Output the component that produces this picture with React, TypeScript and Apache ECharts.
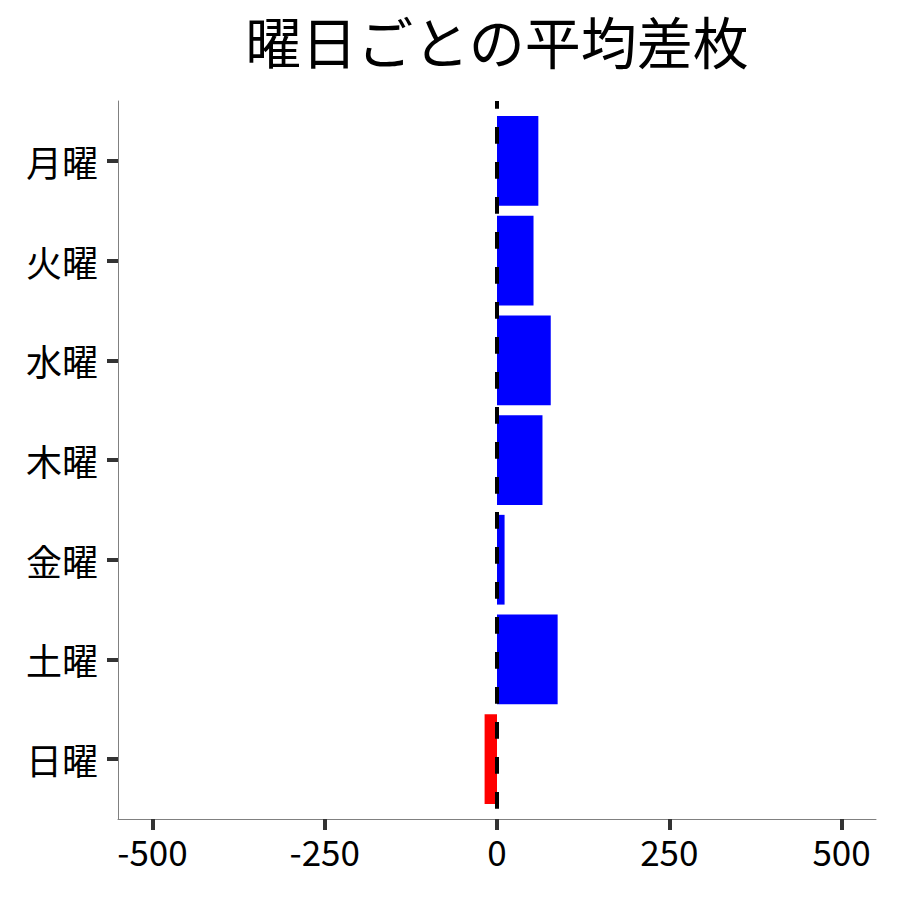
import React, { useEffect, useRef } from "react";
import * as echarts from "echarts";

const TITLE = "曜日ごとの平均差枚";
const days = ["月曜", "火曜", "水曜", "木曜", "金曜", "土曜", "日曜"];
const values = [60, 53, 78, 66, 11, 88, -18];
const xTicks = [-500, -250, 0, 250, 500];
const xRange = [-550, 550];
const yRange = [0.4, 7.6];

const FONT = "Noto Sans CJK JP";

export default function App() {
  const ref = useRef<HTMLDivElement>(null);
  useEffect(() => {
    if (!ref.current) return;
    const chart = echarts.init(ref.current, null, { renderer: "svg" });
    const barData = values.map((v, i) => [v, i + 1]);
    const dayPositions = days.map((_, i) => i + 1);
    chart.setOption({
      animation: false,
      backgroundColor: "#ffffff",
      textStyle: { fontFamily: FONT },
      title: {
        text: TITLE,
        left: 492,
        top: 6,
        textAlign: "center",
        textStyle: { fontFamily: FONT, fontSize: 56, fontWeight: "normal", color: "#000" },
      },
      grid: { left: 118, right: 24, top: 101, bottom: 81, containLabel: false },
      xAxis: {
        type: "value",
        min: xRange[0],
        max: xRange[1],
        splitLine: { show: false },
        axisLine: { show: true, onZero: false, lineStyle: { color: "#808080", width: 1 } },
        axisTick: { show: true, length: 11, customValues: xTicks, lineStyle: { color: "#333", width: 4 } },
        axisLabel: {
          customValues: xTicks,
          margin: 14,
          fontSize: 35,
          color: "#000",
          fontFamily: FONT,
        },
      },
      yAxis: {
        type: "value",
        inverse: true,
        min: yRange[0],
        max: yRange[1],
        splitLine: { show: false },
        axisLine: { show: true, onZero: false, lineStyle: { color: "#808080", width: 1 } },
        axisTick: { show: true, length: 11, customValues: dayPositions, lineStyle: { color: "#333", width: 4 } },
        axisLabel: {
          customValues: dayPositions,
          margin: 20,
          fontSize: 36,
          color: "#000",
          fontFamily: FONT,
          padding: [0, 0, 4, 0],
          formatter: (v: number) => days[Math.round(v) - 1] ?? "",
        },
      },
      series: [
        {
          type: "custom",
          z: 2,
          encode: { x: 0, y: 1 },
          data: barData,
          renderItem: (params: any, api: any) => {
            const v = api.value(0);
            const idx = api.value(1);
            const p0 = api.coord([0, idx - 0.45]);
            const p1 = api.coord([v, idx + 0.45]);
            const x = Math.min(p0[0], p1[0]);
            const y = Math.min(p0[1], p1[1]);
            return {
              type: "rect",
              shape: { x, y, width: Math.abs(p1[0] - p0[0]), height: Math.abs(p1[1] - p0[1]) },
              style: { fill: v >= 0 ? "#0000FF" : "#FF0000" },
            };
          },
        },
        {
          type: "line",
          z: 3,
          symbol: "none",
          silent: true,
          data: [
            [0, yRange[0]],
            [0, yRange[1]],
          ],
          lineStyle: { color: "#000", width: 4, type: [16.7, 18.3], dashOffset: 9.3 },
        },
      ],
    });
    return () => chart.dispose();
  }, []);
  return (
    <div
      ref={ref}
      style={{ position: "fixed", left: 0, top: 0, width: 900, height: 900, background: "#fff" }}
    />
  );
}
